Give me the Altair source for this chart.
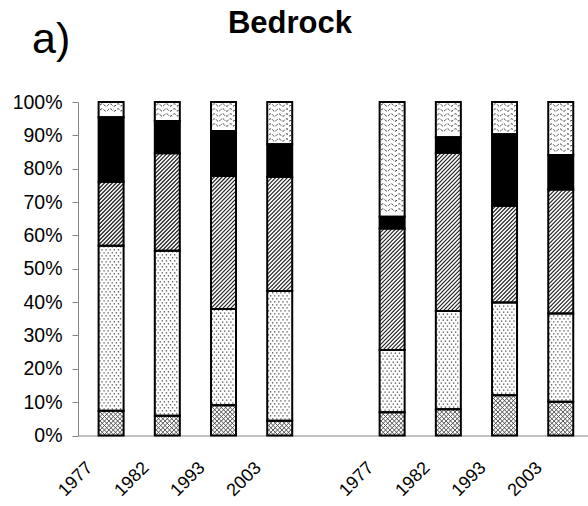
import altair as alt
import numpy as np
import pandas as pd

# ---- data: share (%) of each class in every bar, bottom class first ----
YEARS = ["1977", "1982", "1993", "2003"]
CLASSES = ["weave", "dots", "hatch", "black", "wave"]
WEAVE = [7.4, 5.9, 9.1, 4.4, 7.0, 7.9, 12.1, 10.1]
DOTS = [49.5, 49.5, 28.8, 38.9, 18.6, 29.4, 27.8, 26.5]
HATCH = [19.2, 29.2, 39.9, 34.3, 36.5, 47.5, 29.0, 37.2]
BLACK = [19.3, 9.7, 13.5, 9.7, 3.5, 4.6, 21.4, 10.3]
WAVE = [4.6, 5.7, 8.7, 12.7, 34.4, 10.6, 9.7, 15.9]

# ---- layout (pixels) ----
PLOT_W, PLOT_H = 510, 333.5
STEP = 57.33          # px between neighbouring bar slots
BAR_W = 25
PX_Y = PLOT_H / 100   # px per percent
FONT = "Liberation Sans"
AXIS_GREY = "#868686"

# two groups of four bars with one empty slot between them
positions = [1, 2, 3, 4, 6, 7, 8, 9]
labels_by_pos = [""] * 10
for p, yr in zip(positions, YEARS * 2):
    labels_by_pos[p] = yr

rows = []
for i, pos in enumerate(positions):
    lo = 0.0
    for cls, vals in zip(CLASSES, [WEAVE, DOTS, HATCH, BLACK, WAVE]):
        hi = lo + vals[i]
        rows.append(dict(pos=pos, cls=cls, lo=lo, hi=hi))
        lo = hi
seg = pd.DataFrame(rows)


def to_data(pos, lo, x_px, y_px):
    return pos + (x_px - BAR_W / 2) / STEP, lo + y_px / PX_Y


def diagonal_lines(r, period, mirror=False):
    """45 degree texture lines clipped to one bar segment."""
    h = (r.hi - r.lo) * PX_Y
    w = BAR_W
    out = []
    for c in np.arange(-w + period / 2, h, period):
        x1, x2 = max(0.0, -c), min(w, h - c)
        if x2 - x1 < 0.4:
            continue
        xa, xb = (w - x1, w - x2) if mirror else (x1, x2)
        ax, ay = to_data(r.pos, r.lo, xa, x1 + c)
        bx, by = to_data(r.pos, r.lo, xb, x2 + c)
        out.append(dict(x=ax, y=ay, x2=bx, y2=by))
    return out


def dot_grid(r, dx=4.2, dy=3.0):
    h = (r.hi - r.lo) * PX_Y
    out = []
    k = 0
    y = dy / 2 + 0.5
    while y < h - 1:
        off = (k % 2) * dx / 2
        x = dx / 2 + off - 1
        while x < BAR_W - 1:
            px, py = to_data(r.pos, r.lo, x, y)
            out.append(dict(x=px, y=py))
            x += dx
        y += dy
        k += 1
    return out


def wave_rows(r, dy=5.0):
    h = (r.hi - r.lo) * PX_Y
    out = []
    y = h - 3.0
    while y > 2.5:
        px, py = to_data(r.pos, r.lo, BAR_W / 2, y)
        out.append(dict(x=px, y=py))
        y -= dy
    return out


hatch_df = pd.DataFrame([l for r in seg[seg.cls == "hatch"].itertuples()
                         for l in diagonal_lines(r, 4.0)])
weave_df = pd.DataFrame([l for r in seg[seg.cls == "weave"].itertuples()
                         for m in (False, True)
                         for l in diagonal_lines(r, 4.5, mirror=m)])
dots_df = pd.DataFrame([d for r in seg[seg.cls == "dots"].itertuples()
                        for d in dot_grid(r)])
wave_df = pd.DataFrame([d for r in seg[seg.cls == "wave"].itertuples()
                        for d in wave_rows(r)])

# wavy symbol path, unit coords in [-1, 1] (spans sqrt(size) px)
WAVE_SPAN = 22.0
half = 4.0 / (WAVE_SPAN / 2)
amp = 2.4 / (WAVE_SPAN / 2)
parts = ["M-1,0"]
x0, sgn = -1.0, -1
while x0 < 1 - 1e-6:
    x1 = min(1.0, x0 + half)
    parts.append(f"Q{(x0 + x1) / 2:.3f},{sgn * amp:.3f} {x1:.3f},0")
    x0, sgn = x1, -sgn
WAVE_PATH = " ".join(parts)

xscale = alt.Scale(domain=[0.5, 0.5 + PLOT_W / STEP], nice=False, zero=False)
yscale = alt.Scale(domain=[0, 100], nice=False, zero=False)

label_expr = "[" + ",".join(f"'{s}'" for s in labels_by_pos) + "][datum.value]"

xaxis = alt.Axis(values=positions, labelExpr=label_expr, title=None, grid=False,
                 ticks=False, tickSize=0, labelAngle=-45, labelAlign="right",
                 labelBaseline="top", labelOffset=-28, labelPadding=23,
                 labelFontSize=18, labelFont=FONT, labelColor="black",
                 labelOverlap=False, labelFlush=False,
                 domainColor=AXIS_GREY, domainWidth=1)
yaxis = alt.Axis(values=list(range(0, 101, 10)), labelExpr="datum.value + '%'",
                 title=None, grid=False, tickSize=6, tickColor=AXIS_GREY,
                 domainColor=AXIS_GREY, labelFontSize=19.5, labelFont=FONT,
                 labelColor="black", labelPadding=10, labelFlush=False)

X = lambda f: alt.X(f, scale=xscale, axis=xaxis)
Y = lambda f: alt.Y(f, scale=yscale, axis=yaxis)

base = alt.Chart(seg)

fills = base.mark_bar(size=BAR_W, strokeWidth=0).encode(
    x=X("pos:Q"), y=Y("lo:Q"), y2="hi:Q",
    color=alt.Color("cls:N", legend=None,
                    scale=alt.Scale(domain=CLASSES,
                                    range=["white", "white", "white", "black", "white"])),
)

weave = alt.Chart(weave_df).mark_rule(stroke="#555555", strokeWidth=1).encode(
    x=X("x:Q"), x2="x2:Q", y=Y("y:Q"), y2="y2:Q",
)

hatch = alt.Chart(hatch_df).mark_rule(stroke="#222222", strokeWidth=1.2).encode(
    x=X("x:Q"), x2="x2:Q", y=Y("y:Q"), y2="y2:Q",
)

dots = alt.Chart(dots_df).mark_point(shape="square", filled=True, size=1.8,
                                     color="#555555", opacity=1).encode(
    x=X("x:Q"), y=Y("y:Q"),
)

waves = alt.Chart(wave_df).mark_point(shape=WAVE_PATH, filled=False,
                                      size=WAVE_SPAN ** 2, stroke="#333333",
                                      strokeWidth=1, strokeDash=[2.5, 1.5],
                                      opacity=1).encode(
    x=X("x:Q"), y=Y("y:Q"),
)

outline = base.mark_bar(size=BAR_W, fillOpacity=0, stroke="black",
                        strokeWidth=2).encode(
    x=X("pos:Q"), y=Y("lo:Q"), y2="hi:Q",
)

# panel tag and heading above the plot area
heads = pd.DataFrame({"t": ["a)", "Bedrock"]})
panel_tag = alt.Chart(heads).transform_filter("datum.t == 'a)'").mark_text(
    fontSize=43, font=FONT, align="left", baseline="alphabetic", color="black"
).encode(text="t:N", x=alt.value(-46), y=alt.value(-49))
heading = alt.Chart(heads).transform_filter("datum.t == 'Bedrock'").mark_text(
    fontSize=31, font=FONT, fontWeight="bold", align="center",
    baseline="alphabetic", color="black"
).encode(text="t:N", x=alt.value(212), y=alt.value(-69))

chart = alt.layer(fills, weave, hatch, dots, waves, outline, panel_tag, heading).properties(
    width=PLOT_W, height=PLOT_H,
    autosize=alt.AutoSizeParams(type="none"),
    padding={"left": 78, "top": 102, "right": 0, "bottom": 506 - 102 - PLOT_H},
    background="white",
).configure_view(stroke=None)

chart.save("out.html", embed_options={"renderer": "svg", "actions": False})
